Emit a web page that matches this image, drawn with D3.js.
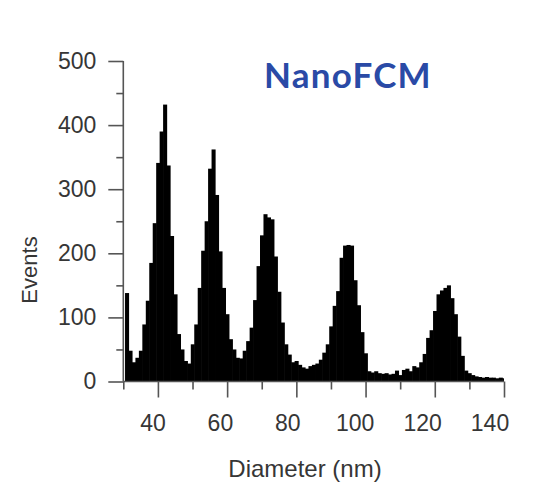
<!DOCTYPE html>
<html>
<head>
<meta charset="utf-8">
<script src="https://cdn.jsdelivr.net/npm/d3@7"></script>
<style>
  html, body { margin: 0; padding: 0; background: #ffffff; }
  svg { display: block; }
</style>
</head>
<body>
<svg id="chart" width="543" height="490"></svg>
<script>
// Bin lower edges (nm), bin width 1 nm
const binStarts = [30.5,31.5,32.5,33.5,34.5,35.5,36.5,37.5,38.5,39.5,
  40.5,41.5,42.5,43.5,44.5,45.5,46.5,47.5,48.5,49.5,
  50.5,51.5,52.5,53.5,54.5,55.5,56.5,57.5,58.5,59.5,
  60.5,61.5,62.5,63.5,64.5,65.5,66.5,67.5,68.5,69.5,
  70.5,71.5,72.5,73.5,74.5,75.5,76.5,77.5,78.5,79.5,
  80.5,81.5,82.5,83.5,84.5,85.5,86.5,87.5,88.5,89.5,
  90.5,91.5,92.5,93.5,94.5,95.5,96.5,97.5,98.5,99.5,
  100.5,101.5,102.5,103.5,104.5,105.5,106.5,107.5,108.5,109.5,
  110.5,111.5,112.5,113.5,114.5,115.5,116.5,117.5,118.5,119.5,
  120.5,121.5,122.5,123.5,124.5,125.5,126.5,127.5,128.5,129.5,
  130.5,131.5,132.5,133.5,134.5,135.5,136.5,137.5,138.5,139.5];
const binWidth = 1;
// Events per bin
const events = [138,48,30,37,48,89,126,185,247,341,
  390,432,337,227,136,74,50,32,28,58,
  89,146,204,250,332,362,291,203,146,105,
  66,50,37,36,48,63,84,127,180,228,
  261,256,253,195,140,92,58,42,30,32,
  26,22,20,24,26,28,34,45,58,86,
  118,141,193,212,213,212,158,119,77,44,
  16,14,16,13,12,13,11,12,17,10,
  18,20,16,24,22,30,43,68,80,110,
  136,142,146,150,130,105,70,40,17,13,
  10,8,7,6,7,6,6,5,6,5];

const xMajorTicks = [40,60,80,100,120,140];
const xMinorTicks = [30,50,70,90,110,130];
const yMajorTicks = [0,100,200,300,400,500];
const yMinorTicks = [50,150,250,350,450];

const title = "NanoFCM";
const xTitle = "Diameter (nm)";
const yTitle = "Events";

const svg = d3.select("#chart");
const axisColor = "#555";
const textColor = "#363636";
const fontFam = "'Liberation Sans', Arial, Helvetica, sans-serif";

// data / tick-mark scale
const x = d3.scaleLinear().domain([30, 140]).range([123.3, 504]);
// tick-label placement scale (labels in the original sit slightly left of their marks)
const xLab = d3.scaleLinear().domain([30, 140]).range([118.8, 489.5]);
const y = d3.scaleLinear().domain([0, 500]).range([381.5, 61]);

// Bars
svg.append("g")
  .selectAll("rect")
  .data(binStarts.map((b, i) => ({b, v: events[i]})))
  .join("rect")
  .attr("x", d => x(d.b))
  .attr("width", d => Math.min(x(d.b + binWidth) + 0.6, x(140)) - x(d.b))
  .attr("y", d => y(d.v))
  .attr("height", d => y(0) - y(d.v))
  .attr("fill", "#000");

// X axis
const gx = svg.append("g").attr("transform", `translate(0,${y(0)})`);
gx.append("g")
  .call(d3.axisBottom(x).tickValues(xMinorTicks).tickSize(8).tickFormat(""))
  .call(g => g.select(".domain").remove());
gx.append("g")
  .call(d3.axisBottom(x).tickValues(xMajorTicks).tickSize(16).tickFormat(""))
  .call(g => g.select(".domain").remove());
gx.append("g")
  .call(d3.axisBottom(xLab).tickValues(xMajorTicks).tickSize(0).tickPadding(33).tickFormat(d3.format("d")))
  .call(g => g.select(".domain").remove())
  .call(g => g.selectAll("line").remove());
gx.append("line").attr("x1", x(30)).attr("x2", x(140)).attr("y1", 0).attr("y2", 0);
gx.selectAll("line").attr("stroke", axisColor).attr("stroke-width", 1.6);
gx.selectAll("text").attr("fill", textColor).attr("font-size", 23).attr("font-family", fontFam);

// Y axis
const gy = svg.append("g").attr("transform", `translate(${x(30)},0)`);
gy.append("g")
  .call(d3.axisLeft(y).tickValues(yMinorTicks).tickSize(7).tickFormat(""))
  .call(g => g.select(".domain").remove());
gy.append("g")
  .call(d3.axisLeft(y).tickValues(yMajorTicks).tickSize(15).tickPadding(12).tickFormat(d3.format("d")))
  .call(g => g.select(".domain").remove());
gy.append("line").attr("x1", 0).attr("x2", 0).attr("y1", y(0)).attr("y2", y(500));
gy.selectAll("line").attr("stroke", axisColor).attr("stroke-width", 1.6);
gy.selectAll("text").attr("fill", textColor).attr("font-size", 23).attr("font-family", fontFam);

// Axis titles
svg.append("text")
  .attr("x", 305).attr("y", 477)
  .attr("text-anchor", "middle")
  .attr("font-size", 24).attr("font-family", fontFam).attr("fill", textColor)
  .text(xTitle);
svg.append("text")
  .attr("transform", "translate(37,270) rotate(-90)")
  .attr("text-anchor", "middle")
  .attr("font-size", 22).attr("font-family", fontFam).attr("fill", textColor)
  .text(yTitle);

// Title
svg.append("text")
  .attr("x", 348).attr("y", 88)
  .attr("text-anchor", "middle")
  .attr("font-size", 35).attr("font-weight", "bold")
  .attr("letter-spacing", 1.2)
  .attr("font-family", "Lato, 'Open Sans', sans-serif")
  .attr("fill", "#2a4aa6")
  .text(title);
</script>
</body>
</html>
